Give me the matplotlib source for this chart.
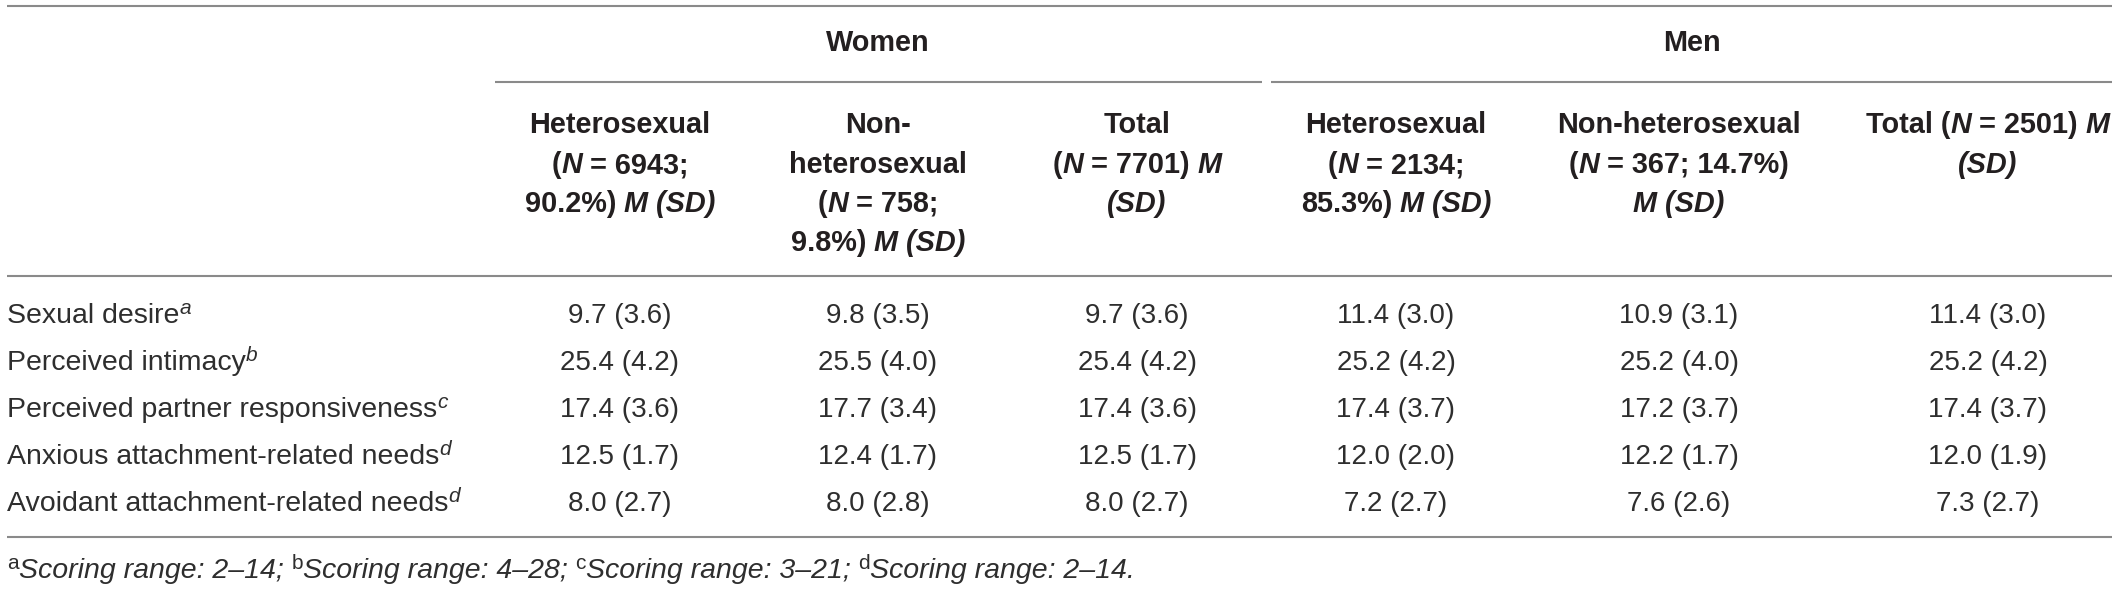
import matplotlib
matplotlib.use("Agg")
import matplotlib.pyplot as plt

# ---------------- data ----------------
row_labels = ["Sexual desire", "Perceived intimacy", "Perceived partner responsiveness",
              "Anxious attachment-related needs", "Avoidant attachment-related needs"]
row_notes = ["a", "b", "c", "d", "d"]

groups = ["Women", "Men"]

# means / SDs per column
women_het_m = [9.7, 25.4, 17.4, 12.5, 8.0]
women_het_sd = [3.6, 4.2, 3.6, 1.7, 2.7]
women_non_m = [9.8, 25.5, 17.7, 12.4, 8.0]
women_non_sd = [3.5, 4.0, 3.4, 1.7, 2.8]
women_tot_m = [9.7, 25.4, 17.4, 12.5, 8.0]
women_tot_sd = [3.6, 4.2, 3.6, 1.7, 2.7]
men_het_m = [11.4, 25.2, 17.4, 12.0, 7.2]
men_het_sd = [3.0, 4.2, 3.7, 2.0, 2.7]
men_non_m = [10.9, 25.2, 17.2, 12.2, 7.6]
men_non_sd = [3.1, 4.0, 3.7, 1.7, 2.6]
men_tot_m = [11.4, 25.2, 17.4, 12.0, 7.3]
men_tot_sd = [3.0, 4.2, 3.7, 1.9, 2.7]

# column headers: lines of (text, italic)
hdr_women_het = [[("Heterosexual", False)],
                 [("(", False), ("N", True), (" = 6943;", False)],
                 [("90.2%) ", False), ("M (SD)", True)]]
hdr_women_non = [[("Non-", False)],
                 [("heterosexual", False)],
                 [("(", False), ("N", True), (" = 758;", False)],
                 [("9.8%) ", False), ("M (SD)", True)]]
hdr_women_tot = [[("Total", False)],
                 [("(", False), ("N", True), (" = 7701) ", False), ("M", True)],
                 [("(SD)", True)]]
hdr_men_het = [[("Heterosexual", False)],
               [("(", False), ("N", True), (" = 2134;", False)],
               [("85.3%) ", False), ("M (SD)", True)]]
hdr_men_non = [[("Non-heterosexual", False)],
               [("(", False), ("N", True), (" = 367; 14.7%)", False)],
               [("M (SD)", True)]]
hdr_men_tot = [[("Total (", False), ("N", True), (" = 2501) ", False), ("M", True)],
               [("(SD)", True)]]

footnotes = [("a", "Scoring range: 2\u201314; "), ("b", "Scoring range: 4\u201328; "),
             ("c", "Scoring range: 3\u201321; "), ("d", "Scoring range: 2\u201314.")]

columns = [
    (hdr_women_het, women_het_m, women_het_sd),
    (hdr_women_non, women_non_m, women_non_sd),
    (hdr_women_tot, women_tot_m, women_tot_sd),
    (hdr_men_het, men_het_m, men_het_sd),
    (hdr_men_non, men_non_m, men_non_sd),
    (hdr_men_tot, men_tot_m, men_tot_sd),
]

# ---------------- layout ----------------
W, H = 2118, 591
FONT = "Liberation Sans"
FS = 20
FS_HDR = 20.8
FS_LAB = 20.5
SUP_FS = 15
TXT = "#2e2e2e"
HDR = "#231f20"
LINE = "#8a8a8a"

col_x = [620, 878, 1137, 1396, 1679, 1988]
group_x = [878, 1692]
group_spans = [(495, 1262), (1271, 2112)]
hdr_base = [133, 173, 212, 251]
row_base = [323, 370, 417, 464, 511]
left_x = 7

fig = plt.figure(figsize=(W / 100, H / 100), dpi=100)
ax = fig.add_axes([0, 0, 1, 1])
ax.set_xlim(0, W)
ax.set_ylim(H, 0)
ax.axis("off")
renderer = fig.canvas.get_renderer()

_space_cache = {}


def _width(s, kw):
    t = ax.text(0, 0, s, **kw)
    w = t.get_window_extent(renderer).width
    t.remove()
    return w


def space_w(kw):
    key = tuple(sorted(kw.items()))
    if key not in _space_cache:
        _space_cache[key] = _width("n n", kw) - _width("nn", kw)
    return _space_cache[key]


def rich(x, y, pieces, ha="center"):
    """pieces: list of (text, kwargs, dy)"""
    items = []
    total = 0.0
    for s, kw, dy in pieces:
        lead = len(s) - len(s.lstrip(" "))
        trail = len(s) - len(s.rstrip(" "))
        core = s.strip(" ")
        sp = space_w(kw)
        t = ax.text(0, y + dy, core, va="baseline", ha="left", **kw)
        w = t.get_window_extent(renderer).width if core else 0
        items.append((t, lead * sp, w + trail * sp))
        total += lead * sp + w + trail * sp
    pos = x - total / 2 if ha == "center" else x
    for t, pre, adv in items:
        pos += pre
        t.set_x(pos)
        pos += adv


bold = dict(fontfamily=FONT, fontsize=FS_HDR, fontweight="bold", color=HDR)
bold_it = dict(fontfamily=FONT, fontsize=FS_HDR, fontweight="bold", fontstyle="italic", color=HDR)
reg = dict(fontfamily=FONT, fontsize=FS, color=TXT)
lab = dict(fontfamily=FONT, fontsize=FS_LAB, color=TXT)
ital = dict(fontfamily=FONT, fontsize=FS_LAB, fontstyle="italic", color=TXT)
sup_it = dict(fontfamily=FONT, fontsize=SUP_FS, fontstyle="italic", color=TXT)
sup_rg = dict(fontfamily=FONT, fontsize=SUP_FS, color=TXT)

# rules
ax.plot([left_x, 2112], [5.5, 5.5], color=LINE, lw=1.5, solid_capstyle="butt")
for (x0, x1) in group_spans:
    ax.plot([x0, x1], [82, 82], color=LINE, lw=1.5, solid_capstyle="butt")
ax.plot([left_x, 2112], [276, 276], color=LINE, lw=1.5, solid_capstyle="butt")
ax.plot([left_x, 2112], [537, 537], color=LINE, lw=1.5, solid_capstyle="butt")

# group headers
for g, gx in zip(groups, group_x):
    rich(gx, 51, [(g, bold, 0)])

# column headers + data
for cx, (hdr, m, sd) in zip(col_x, columns):
    for li, line in enumerate(hdr):
        rich(cx, hdr_base[li], [(s, bold_it if it else bold, 0) for s, it in line])
    for ri in range(len(row_labels)):
        rich(cx, row_base[ri], [(f"{m[ri]:.1f} ({sd[ri]:.1f})", reg, 0)])

# row labels
for ri, (label, note) in enumerate(zip(row_labels, row_notes)):
    rich(left_x, row_base[ri], [(label, lab, 0), (note, sup_it, -9)], ha="left")

# footnote
fn_pieces = []
for mark, txt in footnotes:
    fn_pieces.append((mark, sup_rg, -9))
    fn_pieces.append((txt, ital, 0))
rich(left_x, 578, fn_pieces, ha="left")

fig.savefig("out.png", dpi=100)
